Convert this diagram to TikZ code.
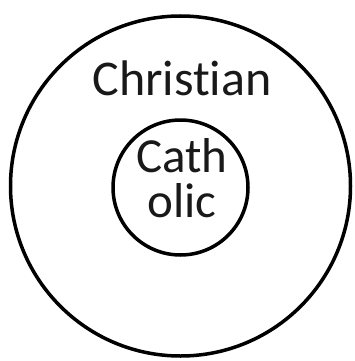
\documentclass[tikz,border=0pt]{standalone}
\usepackage{fontspec}
\setmainfont[RawFeature={-liga;-dlig}]{Carlito}
\begin{document}
\begin{tikzpicture}[x=1pt,y=-1pt,
  ring/.style={draw=black,line width=3.5pt,circle,inner sep=0pt},
  lbl/.style={text=black!90,inner sep=0pt}]
\useasboundingbox (0,0) rectangle (354,361);
\node[ring,minimum size=340pt] (outer) at (180.5,186) {};
\node[ring,minimum size=135pt] (inner) at (180.5,187.5) {};
\node[lbl,anchor=base,font=\fontsize{50}{50}\selectfont] (christian) at (182,95) {Christian};
\node[lbl,anchor=center,align=center,font=\fontsize{49}{45}\selectfont] (catholic) at (182,178) {Cath\\olic};
\end{tikzpicture}
\end{document}
